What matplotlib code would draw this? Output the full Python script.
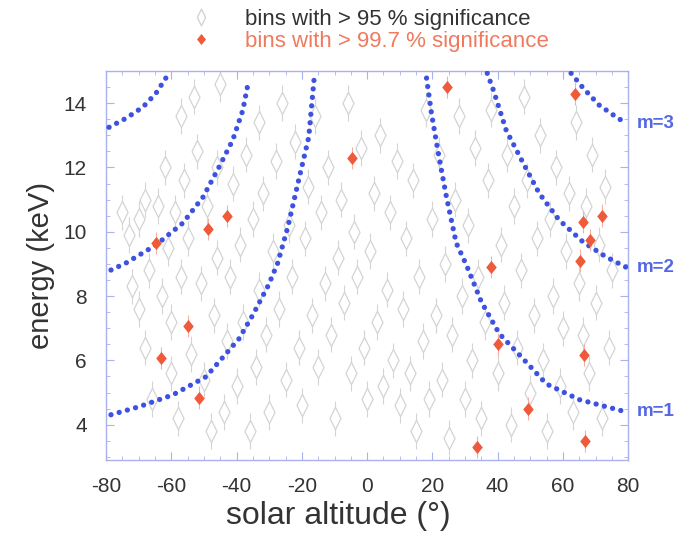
import matplotlib
matplotlib.use("Agg")
import matplotlib.pyplot as plt
from matplotlib.lines import Line2D
from matplotlib.ticker import MultipleLocator

plt.rcParams['font.family'] = ['Liberation Sans', 'DejaVu Sans']
plt.rcParams['axes.unicode_minus'] = False

# bins with > 95 % significance (solar altitude, energy)
grey_alt = [-75, -73, -72, -70, -70, -68, -68, -67, -66, -64, -63, -62, -61, -60, -60, -59, -58, -57,
            -57, -56, -55, -54, -53, -52, -51, -50, -49, -48, -47, -46, -46, -45, -44, -43, -42, -41,
            -40, -39, -38, -37, -36, -35, -34, -33, -33, -32, -31, -30, -29, -28, -27, -26, -25, -24,
            -23, -22, -21, -20, -19, -18, -17, -16, -15, -14, -13, -12, -11, -10, -9, -8, -7, -6,
            -5, -4, -3, -2, -1, 0, 1, 2, 3, 4, 5, 6, 7, 8, 9, 10, 11, 12, 13, 14, 15, 16, 17, 18,
            19, 20, 21, 22, 23, 24, 25, 26, 27, 28, 29, 30, 31, 32, 33, 34, 35, 36, 37, 38, 40, 41,
            42, 43, 44, 45, 46, 47, 48, 49, 50, 51, 52, 53, 54, 55, 56, 57, 58, 59, 60, 61, 62, 63,
            64, 65, 66, 67, 68, 69, 70, 71, 72, 73, 74, 75]
grey_energy = [10.6, 9.9, 8.3, 10.4, 7.6, 11.0, 6.4, 8.8, 4.8, 10.8, 8.0, 12.0, 9.5, 5.6, 7.2, 10.6,
               4.2, 8.6, 13.6, 11.6, 9.8, 6.2, 14.2, 12.5, 8.4, 5.4, 10.8, 3.8, 7.4, 9.2, 12.0, 14.6,
               4.4, 6.6, 8.6, 11.5, 5.2, 9.6, 7.2, 12.4, 3.8, 10.4, 5.8, 8.2, 13.4, 11.2, 6.8, 4.4,
               9.4, 12.2, 7.6, 14.0, 5.4, 10.2, 8.6, 12.8, 6.4, 4.6, 9.8, 11.4, 7.4, 13.6, 5.8, 10.6,
               8.4, 12.0, 6.8, 4.2, 9.2, 11.0, 7.8, 14.0, 5.6, 10.0, 8.6, 12.6, 6.4, 4.8, 9.4, 11.2,
               7.2, 13.0, 5.2, 8.2, 10.6, 6.0, 12.2, 4.6, 7.6, 9.8, 5.6, 11.6, 3.8, 8.6, 6.6, 13.8,
               4.8, 10.4, 7.4, 12.4, 5.4, 9.0, 3.6, 6.8, 11.0, 13.6, 8.0, 4.8, 10.2, 6.0, 12.6, 8.6,
               4.2, 7.2, 11.6, 13.8, 5.6, 9.6, 7.8, 12.4, 4.0, 10.8, 6.4, 8.8, 14.2, 11.6, 5.0, 7.4,
               9.8, 13.0, 6.0, 3.8, 10.4, 8.0, 12.0, 5.2, 7.0, 9.4, 11.2, 4.4, 13.4, 8.4, 6.8, 10.8,
               5.6, 12.4, 7.8, 9.6, 4.2, 11.4, 6.4, 8.8]

# bins with > 99.7 % significance
red_alt = [-64.7, -63.2, -54.9, -51.6, -48.8, -43.0, -4.5, 24.6, 33.8, 38.0, 40.2, 49.4, 63.7,
           65.3, 66.2, 68.3, 66.5, 66.8, 72.0]
red_energy = [9.65, 6.08, 7.07, 4.84, 10.09, 10.49, 12.3, 14.5, 3.3, 8.9, 6.5, 4.5, 14.3,
              9.1, 10.3, 9.75, 6.17, 3.5, 10.5]

# m = 1, 2, 3 curves (left and right branches)
m1_left_alt = [-78.5, -69.9, -59.5, -49.4, -39.3, -35.0, -30.2, -27.4, -24.3, -21.0, -17.9, -16.1]
m1_left_energy = [4.31, 4.56, 4.93, 5.49, 6.67, 7.42, 8.35, 9.03, 10.15, 11.6, 12.94, 14.93]
m1_right_alt = [18.2, 19.7, 21.8, 24.3, 27.3, 30.4, 35.0, 40.5, 47.8, 54.9, 65.0, 79.3]
m1_right_energy = [14.78, 13.69, 12.45, 11.08, 9.65, 8.97, 7.82, 6.83, 6.05, 5.27, 4.78, 4.4]
m2_left_alt = [-78.5, -73.9, -64.7, -56.5, -50.3, -45.4, -41.2, -38.1, -36.3]
m2_left_energy = [8.81, 9.03, 9.59, 10.27, 11.08, 12.01, 12.85, 13.78, 14.71]
m2_right_alt = [36.8, 38.7, 42.6, 47.8, 52.7, 58.8, 66.2, 73.2, 79.3]
m2_right_energy = [14.93, 14.4, 13.16, 12.14, 11.2, 10.37, 9.68, 9.22, 8.9]
m3_left_alt = [-79.1, -73.9, -68.7, -64.7, -61.7]
m3_left_energy = [13.25, 13.53, 13.88, 14.31, 14.78]
m3_right_alt = [62.5, 66.2, 71.1, 76.3, 79.3]
m3_right_energy = [14.93, 14.47, 13.94, 13.57, 13.38]

grey_col = '#d4d4d4'
red_col = '#ee5a3a'
blue_col = '#3d52e0'
frame_col = '#a9b1ef'
text_col = '#333333'

tall_diamond = [(-0.5, 0), (0, 1), (0.5, 0), (0, -1), (-0.5, 0)]
red_diamond = [(-0.8, 0), (0, 1), (0.8, 0), (0, -1), (-0.8, 0)]

fig = plt.figure(figsize=(6.98, 5.4), dpi=100)
ax = fig.add_axes([0.152, 0.148, 0.748, 0.7205])

ax.errorbar(grey_alt, grey_energy, yerr=0.55, fmt='none', ecolor=grey_col, elinewidth=0.8, zorder=1)
ax.plot(grey_alt, grey_energy, linestyle='none', marker=tall_diamond, markersize=16,
        markerfacecolor='white', markeredgecolor=grey_col, markeredgewidth=0.9, zorder=2)

dots = dict(color=blue_col, linewidth=3.8, linestyle=(0, (0.01, 1.6)),
            dash_capstyle='round', zorder=3)
for xs, ys in [(m1_left_alt, m1_left_energy), (m1_right_alt, m1_right_energy),
               (m2_left_alt, m2_left_energy), (m2_right_alt, m2_right_energy),
               (m3_left_alt, m3_left_energy), (m3_right_alt, m3_right_energy)]:
    ax.plot(xs, ys, **dots)

ax.errorbar(red_alt, red_energy, yerr=0.35, fmt='none', ecolor='#f4b0a0', elinewidth=0.8, zorder=4)
ax.plot(red_alt, red_energy, linestyle='none', marker=red_diamond, markersize=9.5,
        color=red_col, markeredgewidth=0, zorder=5)

# labels for the curves, at their right-hand ends
for lab, yv in [('m=3', m3_right_energy[-1]), ('m=2', m2_right_energy[-1]), ('m=1', m1_right_energy[-1])]:
    ax.text(82.5, yv, lab, color='#5468e6', fontsize=13.5, fontweight='bold',
            va='center', ha='left', clip_on=False)

ax.set_xlim(-80, 80)
ax.set_ylim(2.9, 15.0)
ax.xaxis.set_major_locator(MultipleLocator(20))
ax.xaxis.set_minor_locator(MultipleLocator(5))
ax.yaxis.set_minor_locator(MultipleLocator(0.5))
ax.set_yticks([4, 6, 8, 10, 12, 14])
for s in ax.spines.values():
    s.set_color(frame_col)
    s.set_linewidth(1.0)
ax.tick_params(which='both', direction='in', top=True, right=True, color=frame_col,
               labelcolor=text_col, labelsize=15)
ax.tick_params(which='major', length=6)
ax.tick_params(which='minor', length=3)
ax.tick_params(axis='x', pad=12)
ax.tick_params(axis='y', pad=14)

ax.set_xlabel('solar altitude (°)', fontsize=23, color=text_col, labelpad=0)
ax.set_ylabel('energy (keV)', fontsize=21, color=text_col, labelpad=6)
ax.xaxis.set_label_coords(0.445, -0.105)

handles = [Line2D([], [], linestyle='none', marker=tall_diamond, markersize=12,
                  markerfacecolor='white', markeredgecolor=grey_col),
           Line2D([], [], linestyle='none', marker=red_diamond, markersize=8,
                  color=red_col, markeredgewidth=0)]
fig.legend(handles, ['bins with > 95 % significance', 'bins with > 99.7 % significance'],
           loc='upper left', bbox_to_anchor=(0.243, 1.0), frameon=False, fontsize=16,
           labelcolor=[text_col, '#f07a5e'], handletextpad=1.0, labelspacing=0.05,
           borderaxespad=0)

fig.savefig('out.png', dpi=100, facecolor='white')
